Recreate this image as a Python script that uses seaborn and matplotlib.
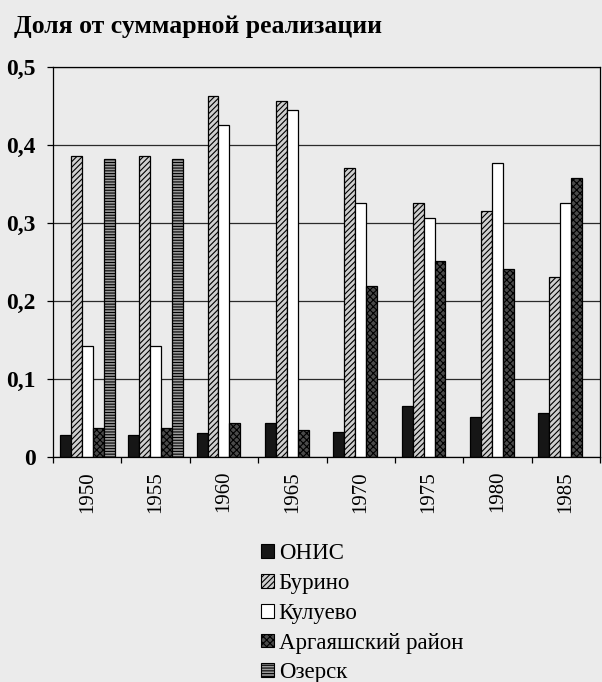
import numpy as np
import pandas as pd
import matplotlib
matplotlib.use("Agg")
import matplotlib.pyplot as plt
from matplotlib.patches import Patch
from matplotlib.ticker import FixedLocator
import seaborn as sns

# Share of total realization by year of birth, per population group
years = ["1950", "1955", "1960", "1965", "1970", "1975", "1980", "1985"]
series_names = ["ОНИС", "Бурино", "Кулуево", "Аргаяшский район", "Озерск"]
onis = [0.028, 0.028, 0.031, 0.043, 0.032, 0.065, 0.051, 0.057]
burino = [0.386, 0.386, 0.463, 0.456, 0.371, 0.326, 0.315, 0.231]
kuluevo = [0.142, 0.142, 0.425, 0.445, 0.325, 0.307, 0.377, 0.325]
argayash = [0.037, 0.037, 0.044, 0.035, 0.219, 0.251, 0.241, 0.358]
ozersk = [0.382, 0.382, np.nan, np.nan, np.nan, np.nan, np.nan, np.nan]
y_ticks = [0.0, 0.1, 0.2, 0.3, 0.4, 0.5]
y_tick_labels = ["0", "0,1", "0,2", "0,3", "0,4", "0,5"]

values = [onis, burino, kuluevo, argayash, ozersk]
df = pd.DataFrame(
    [(yr, name, v) for name, vals in zip(series_names, values) for yr, v in zip(years, vals)],
    columns=["year", "group", "share"],
).dropna()

# fill colour and hatch for each group (monochrome print style)
styles = {
    "ОНИС": ("#161616", ""),
    "Бурино": ("#cfcfcf", "//////"),
    "Кулуево": ("#ffffff", ""),
    "Аргаяшский район": ("#4a4a4a", "xxxxx"),
    "Озерск": ("#9a9a9a", "------"),
}

bg = "#ebebeb"
plt.rcParams["font.family"] = ["Liberation Serif", "DejaVu Serif"]
plt.rcParams["hatch.linewidth"] = 0.8

fig = plt.figure(figsize=(6.02, 6.82), dpi=100, facecolor=bg)
ax = fig.add_axes([53 / 602, 1 - 457 / 682, 547 / 602, 390 / 682])
ax.set_facecolor(bg)

sns.barplot(
    data=df, x="year", y="share", hue="group",
    order=years, hue_order=series_names,
    palette={k: v[0] for k, v in styles.items()},
    errorbar=None, width=0.8, saturation=1, legend=False, ax=ax,
)

for container, name in zip(ax.containers, series_names):
    fc, hatch = styles[name]
    for bar in container:
        bar.set_facecolor(fc)
        bar.set_hatch(hatch)
        bar.set_edgecolor("black")
        bar.set_linewidth(0.9)

ax.set_xlim(-0.5, len(years) - 0.5)
ax.set_ylim(0, 0.5)
ax.set_axisbelow(True)
ax.yaxis.grid(True, color="#2a2a2a", linewidth=0.9)
ax.xaxis.grid(False)

for s in ax.spines.values():
    s.set_visible(True)
    s.set_color("black")
    s.set_linewidth(0.9)

ax.set_yticks(y_ticks)
ax.set_yticklabels(y_tick_labels, fontsize=17, fontweight="bold")
ax.tick_params(axis="y", direction="out", length=4.5, width=0.9, pad=8, colors="black")

ax.set_xticks(range(len(years)))
ax.set_xticklabels(years, rotation=90, fontsize=15, va="top")
ax.tick_params(axis="x", which="major", length=0, pad=10)
ax.xaxis.set_minor_locator(FixedLocator(np.arange(-0.5, len(years), 1.0)))
ax.tick_params(axis="x", which="minor", direction="out", length=4.5, width=0.9)

ax.set_xlabel("")
ax.set_ylabel("")

fig.text(14 / 602, 1 - 33 / 682, "Доля от суммарной реализации",
         fontsize=18.5, fontweight="bold", ha="left", va="baseline")

handles = [
    Patch(facecolor=styles[n][0], hatch=styles[n][1], edgecolor="black", linewidth=0.8, label=n)
    for n in series_names
]
fig.legend(
    handles=handles, loc="upper left", bbox_to_anchor=(250 / 602, 1 - 532 / 682),
    frameon=False, fontsize=16.5, handlelength=0.55, handleheight=0.55,
    handletextpad=0.2, labelspacing=0.38, borderpad=0,
)

fig.savefig("out.png", dpi=100, facecolor=bg)
